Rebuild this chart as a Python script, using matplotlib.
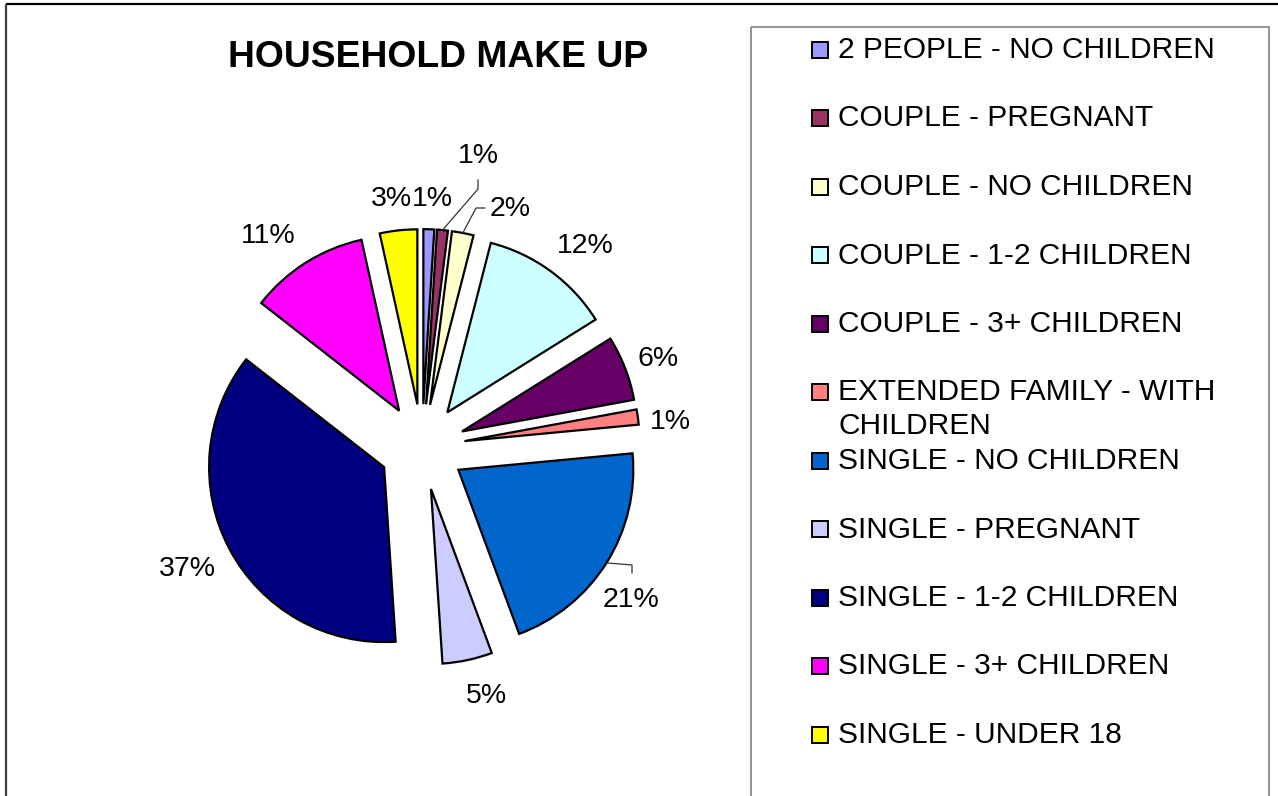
import matplotlib
matplotlib.use('Agg')
import matplotlib.pyplot as plt
from matplotlib.patches import Rectangle
import numpy as np

plt.rcParams['font.family'] = ['Liberation Sans', 'DejaVu Sans']

# data (percent of households)
categories = ['2 PEOPLE - NO CHILDREN', 'COUPLE - PREGNANT', 'COUPLE - NO CHILDREN',
              'COUPLE - 1-2 CHILDREN', 'COUPLE - 3+ CHILDREN',
              'EXTENDED FAMILY - WITH\nCHILDREN', 'SINGLE - NO CHILDREN',
              'SINGLE - PREGNANT', 'SINGLE - 1-2 CHILDREN', 'SINGLE - 3+ CHILDREN',
              'SINGLE - UNDER 18']
shares = [1.0, 1.0, 2.0, 12.1, 6.0, 1.4, 20.85, 4.6, 36.6, 11.0, 3.45]
colors = ['#9999FF', '#993366', '#FFFFCC', '#CCFFFF', '#660066', '#FF8080',
          '#0066CC', '#CCCCFF', '#000080', '#FF00FF', '#FFFF00']

# layout (pixels)
W, H = 1278, 796
CX, CY, R = 422, 447, 175
label_pos = [(432, 196), (478, 153), (510, 206), (585, 243), (658, 356), (670, 419),
             (631, 597), (486, 693), (187, 566), (268, 233), (391, 196)]
leaders = {1: [(478, 189), (478, 180)], 2: [(476, 208), (485, 208)],
           6: [(632, 565), (632, 573)]}

fig = plt.figure(figsize=(W / 100, H / 100), dpi=100)

# pixel-space axes for frame, title and legend
bg = fig.add_axes([0, 0, 1, 1])
bg.set_xlim(0, W)
bg.set_ylim(H, 0)
bg.axis('off')

bg.plot([6, W], [4, 4], color='black', lw=1.6, solid_capstyle='butt')
bg.plot([6, 6], [4, H], color='#404040', lw=1.6, solid_capstyle='butt')
bg.add_patch(Rectangle((751, 27), 1269 - 751, H + 10, fill=False,
                       edgecolor='#808080', lw=1.2))

bg.text(438.5, 67, 'HOUSEHOLD MAKE UP', ha='center', va='baseline',
        fontsize=26.8, fontweight='bold')

for k, (name, col) in enumerate(zip(categories, colors)):
    cy = 47.5 + 68.5 * k
    bg.add_patch(Rectangle((812, cy - 6), 16, 16, facecolor=col,
                           edgecolor='black', lw=1.4))
    for j, line in enumerate(name.split('\n')):
        bg.text(838, cy + 10.5 + 34 * j, line, ha='left', va='baseline',
                fontsize=21.5)

# pie axes: 1 data unit = R pixels
ax = fig.add_axes([0, 0, 1, 1])
ax.patch.set_alpha(0)
wedges, _ = ax.pie(shares, colors=colors, explode=[0.245] * len(shares),
                   startangle=90, counterclock=False, radius=1,
                   wedgeprops=dict(edgecolor='black', linewidth=1.6))
ax.set_xlim((0 - CX) / R, (W - CX) / R)
ax.set_ylim((CY - H) / R, CY / R)
ax.axis('off')


def to_data(p):
    return (p[0] - CX) / R, (CY - p[1]) / R


for v, pos in zip(shares, label_pos):
    x, y = to_data((pos[0], pos[1] + 10))
    ax.text(x, y, f'{v:.0f}%', ha='center', va='baseline', fontsize=20.5)

for i, pts in leaders.items():
    w = wedges[i]
    th = np.deg2rad((w.theta1 + w.theta2) / 2)
    x0 = w.center[0] + w.r * np.cos(th)
    y0 = w.center[1] + w.r * np.sin(th)
    xs = [x0] + [to_data(p)[0] for p in pts]
    ys = [y0] + [to_data(p)[1] for p in pts]
    ax.plot(xs, ys, color='#333333', lw=0.9)

fig.savefig('out.png', dpi=100)
